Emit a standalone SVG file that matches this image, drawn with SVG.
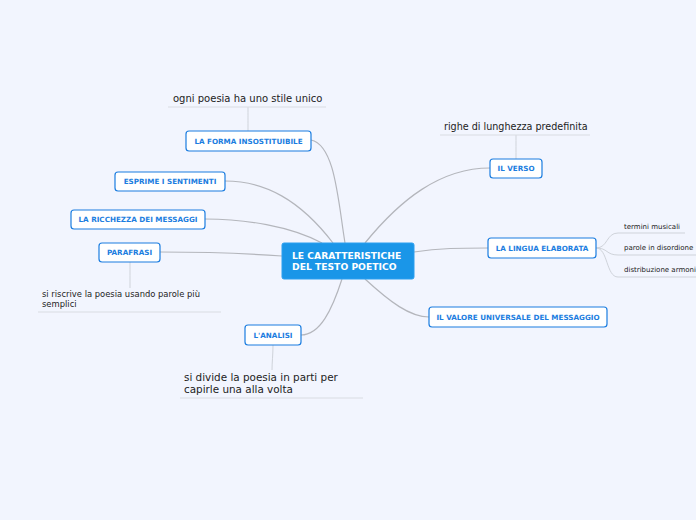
<svg xmlns="http://www.w3.org/2000/svg" width="696" height="520" viewBox="0 0 696 520">
<style>
.bg{fill:#f2f5fe}
.con{fill:none;stroke:#b4b6bc;stroke-width:1.2}
.sub{fill:none;stroke:#cfd3da;stroke-width:1}
.ul{fill:none;stroke:#d9dce2;stroke-width:1}
.node rect{fill:#ffffff;stroke:#1b7de0;stroke-width:1.2}
.node text{font-family:"DejaVu Sans",Verdana,sans-serif;font-weight:bold;font-size:7.2px;fill:#1b7de0;text-anchor:middle}
.center rect{fill:#1a96e8;stroke:#2a9ff0}
.center text{font-family:"DejaVu Sans",Verdana,sans-serif;font-weight:bold;font-size:9.2px;fill:#ffffff}
.lbl{font-family:"DejaVu Sans",Verdana,sans-serif;font-size:9.6px;fill:#222}
.sm{font-family:"DejaVu Sans",Verdana,sans-serif;font-size:7px;fill:#222}
</style>
<rect class="bg" x="0" y="0" width="696" height="520"/>
<g id="connectors">
<path class="con" d="M345,243 C338,200 335,145 311,140"/>
<path class="con" d="M333,243 C300,200 265,181 225,181"/>
<path class="con" d="M322,243 C290,226 245,219 205,219"/>
<path class="con" d="M282,256 C240,253 200,252 160,252"/>
<path class="con" d="M342,279 C332,310 320,335 301,335"/>
<path class="con" d="M365,243 C400,200 440,168 490,168"/>
<path class="con" d="M414,252 C440,248 460,248 488,248"/>
<path class="con" d="M365,279 C390,302 410,317 429,317"/>
<path class="sub" d="M248,131 C248,120 248,115 248,107"/>
<path class="sub" d="M516,159 C516,150 516,142 516,135"/>
<path class="sub" d="M130,262 C130,272 130,280 130,288"/>
<path class="sub" d="M273,345 C273,355 272,362 272,370"/>
<path class="sub" d="M596,248 C608,248 606,233 618,233 L685,233"/>
<path class="sub" d="M596,248 C608,248 606,255 618,255 L696,255"/>
<path class="sub" d="M596,248 C608,248 606,277 618,277 L696,277"/>
</g>
<g id="center" class="center">
<rect x="282" y="243" width="132" height="36" rx="2"/>
<text x="292" y="259">LE CARATTERISTICHE</text>
<text x="292" y="270">DEL TESTO POETICO</text>
</g>
<g id="n-forma" class="node">
<rect x="186" y="131" width="125" height="20" rx="3"/>
<text x="248.5" y="143.5">LA FORMA INSOSTITUIBILE</text>
</g>
<g id="n-esprime" class="node">
<rect x="115" y="172" width="110" height="19" rx="3"/>
<text x="170" y="184">ESPRIME I SENTIMENTI</text>
</g>
<g id="n-ricchezza" class="node">
<rect x="71" y="210" width="134" height="19" rx="3"/>
<text x="138" y="222">LA RICCHEZZA DEI MESSAGGI</text>
</g>
<g id="n-parafrasi" class="node">
<rect x="99" y="243" width="61" height="19" rx="3"/>
<text x="129.5" y="255">PARAFRASI</text>
</g>
<g id="n-analisi" class="node">
<rect x="245" y="325" width="56" height="20" rx="3"/>
<text x="273" y="337.5">L'ANALISI</text>
</g>
<g id="n-verso" class="node">
<rect x="490" y="159" width="52" height="19" rx="3"/>
<text x="516" y="171">IL VERSO</text>
</g>
<g id="n-lingua" class="node">
<rect x="488" y="238" width="108" height="20" rx="3"/>
<text x="542" y="250.5">LA LINGUA ELABORATA</text>
</g>
<g id="n-valore" class="node">
<rect x="429" y="307" width="178" height="20" rx="3"/>
<text x="518" y="319.5">IL VALORE UNIVERSALE DEL MESSAGGIO</text>
</g>
<g id="t-ogni">
<text class="lbl" x="173" y="102" style="font-size:10px">ogni poesia ha uno stile unico</text>
<line class="ul" x1="168" y1="107" x2="326" y2="107"/>
</g>
<g id="t-righe">
<text class="lbl" x="444" y="130">righe di lunghezza predefinita</text>
<line class="ul" x1="440" y1="135" x2="590" y2="135"/>
</g>
<g id="t-riscrive">
<text class="sm" x="42" y="297" style="font-size:8.4px">si riscrive la poesia usando parole più</text>
<text class="sm" x="42" y="307" style="font-size:8.4px">semplici</text>
<line class="ul" x1="38" y1="312" x2="221" y2="312"/>
</g>
<g id="t-divide">
<text class="lbl" x="184" y="381" style="font-size:10.4px">si divide la poesia in parti per</text>
<text class="lbl" x="184" y="393" style="font-size:10.4px">capirle una alla volta</text>
<line class="ul" x1="180" y1="398" x2="363" y2="398"/>
</g>
<g id="t-termini"><text class="sm" x="624" y="229">termini musicali</text></g>
<g id="t-parole"><text class="sm" x="624" y="250">parole in disordione</text></g>
<g id="t-distribuzione"><text class="sm" x="624" y="272">distribuzione armoniosa</text></g>
</svg>
